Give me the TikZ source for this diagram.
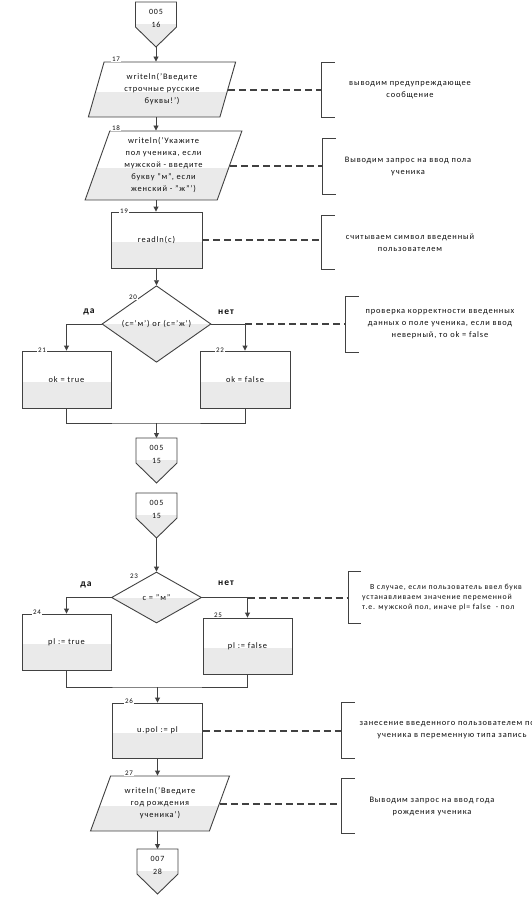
\documentclass[tikz,border=0pt]{standalone}
\usepackage{fontspec}
\setmainfont{Carlito}[LetterSpace=10]
\usetikzlibrary{shapes.geometric,arrows.meta}
\definecolor{linec}{RGB}{65,65,65}
\definecolor{shadec}{RGB}{234,234,234}
\definecolor{txtc}{RGB}{15,15,15}
\tikzset{
 outl/.style={draw=linec, line width=0.9pt},
 lowshade/.style={path picture={\fill[shadec] ([yshift=-#1]path picture bounding box.west) rectangle (path picture bounding box.south east);}},
 lowshade/.default=2pt,
 txt/.style={font=\fontsize{8.4}{12}\selectfont, text=txtc, align=center},
 proc/.style={rectangle, outl, fill=white, lowshade, txt, inner sep=0pt},
 io/.style={trapezium, trapezium stretches=true, outl, fill=white, lowshade, txt, inner sep=0pt},
 dec/.style={diamond, outl, fill=white, lowshade=0pt, txt, inner sep=0pt},
 flow/.style={outl, -{Triangle[length=5pt,width=5pt]}},
 wire/.style={outl},
 note/.style={txt, inner sep=0pt},
 bracketline/.style={draw=linec, line width=0.9pt},
 dashline/.style={draw=linec, line width=2pt, dash pattern=on 7pt off 4pt},
 num/.style={font=\fontsize{7}{8}\selectfont, text=txtc, fill=white, inner sep=1pt},
 branch/.style={font=\bfseries\fontsize{9.5}{11}\selectfont, text=txtc},
 offtext/.style={txt, inner sep=0pt, font=\fontsize{8}{12.5}\selectfont},
}
\newcommand\offpage[4]{%
  \path[outl, fill=white, path picture={\fill[shadec] (#2-21,#3+22) rectangle (#2+21,#3+47);}]
    (#2-20.5,#3) -- (#2+20.5,#3) -- (#2+20.5,#3+25) -- (#2,#3+45) -- (#2-20.5,#3+25) -- cycle;
  \coordinate (#1top) at (#2,#3);
  \coordinate (#1tip) at (#2,#3+45);
  \node[offtext] (#1) at (#2,#3+16.5) {#4};
}
\newcommand\bracketof[1]{%
  \draw[bracketline] ([xshift=13pt]#1.north west) -- (#1.north west) -- (#1.south west) -- ([xshift=13pt]#1.south west);
}
\begin{document}
\begin{tikzpicture}[x=1pt,y=-1pt]
\useasboundingbox (0,0) rectangle (532,897);
\fill[white] (0,0) rectangle (532,897);
\clip (0,0) rectangle (532,897);

% ---- first part ----
\offpage{k16}{156}{2}{005\\16}
\node[io, trapezium left angle=72, trapezium right angle=108, minimum width=148, minimum height=55] (p17) at (162,89.5) {writeln('Введите\\строчные русские\\буквы!')};
\node[io, trapezium left angle=72, trapezium right angle=108, minimum width=157, minimum height=69] (p18) at (163.5,165.5) {writeln('Укажите\\пол ученика, если\\мужской - введите\\букву "м", если\\женский - "ж"')};
\node[proc, minimum width=91, minimum height=56] (b19) at (156.5,240) {readln(c)};
\node[dec, minimum width=109, minimum height=64] (d20) at (156.5,324) {(c='м') or (c='ж')};
\node[proc, minimum width=89, minimum height=57] (b21) at (66.5,379.5) {ok = true};
\node[proc, minimum width=90, minimum height=57] (b22) at (245,379.5) {ok = false};
\coordinate (m1) at (156.5,423);
\offpage{k15a}{156.5}{438}{005\\15}

% ---- second part ----
\offpage{k15b}{156.5}{493}{005\\15}
\node[dec, minimum width=90, minimum height=51] (d23) at (156.5,597.5) {c = "м"};
\node[proc, minimum width=89, minimum height=56] (b24) at (66.5,642) {pl := true};
\node[proc, minimum width=89, minimum height=56] (b25) at (247.5,646) {pl := false};
\coordinate (m2) at (157.5,687);
\node[proc, minimum width=90, minimum height=55] (b26) at (157.5,730.5) {u.pol := pl};
\node[io, trapezium left angle=65.5, trapezium right angle=114.5, minimum width=140, minimum height=55] (p27) at (160,803.5) {writeln('Введите\\год рождения\\ученика')};
\offpage{k28}{157.5}{849}{007\\28}

% ---- flow connectors ----
\draw[flow] (k16tip) -- (k16tip |- p17.north);
\draw[flow] (k16tip |- p17.south) -- (k16tip |- p18.north);
\draw[flow] (k16tip |- p18.south) -- (k16tip |- b19.north);
\draw[flow] (b19.south) -- (d20.north);
\draw[flow] (d20.west) -| (b21.north);
\draw[flow] (d20.east) -| (b22.north);
\draw[wire] (b21.south) |- (m1) -| (b22.south);
\draw[flow] (m1) -- (k15atop);
\draw[flow] (k15btip) -- (d23.north);
\draw[flow] (d23.west) -| (b24.north);
\draw[flow] (d23.east) -| (b25.north);
\draw[wire] (b24.south) |- (m2) -| (b25.south);
\draw[flow] (m2) -- (b26.north);
\draw[flow] (b26.south) -- (b26.south |- p27.north);
\draw[flow] (b26.south |- p27.south) -- (k28top);

% ---- comments ----
\node[note, minimum width=176, minimum height=54] (c1) at (410,90) {выводим предупреждающее\\сообщение};
\node[note, minimum width=170, minimum height=55] (c2) at (408,166.5) {Выводим запрос на ввод пола\\ученика};
\node[note, minimum width=176, minimum height=53] (c3) at (410,242.5) {считываем символ введенный\\пользователем};
\node[note, minimum width=188, minimum height=55] (c4) at (440,324.5) {проверка корректности введенных\\данных о поле ученика, если ввод\\неверный, то ok = false};
\node[note, anchor=west, align=left, inner xsep=14pt, minimum height=51, font=\fontsize{7.8}{10}\selectfont] (c5) at (348,597.5) {\hspace*{8pt}В случае, если пользователь ввел букв\\устанавливаем значение переменной\\т.е. мужской пол, иначе pl= false \ - пол};
\node[note, minimum width=220, minimum height=55] (c6) at (452,730.5) {занесение введенного пользователем пола\\ученика в переменную типа запись};
\node[note, minimum width=180, minimum height=54] (c7) at (432,806) {Выводим запрос на ввод года\\рождения ученика};
\bracketof{c1}\bracketof{c2}\bracketof{c3}\bracketof{c4}\bracketof{c5}\bracketof{c6}\bracketof{c7}

\coordinate (j20) at (b22.north |- d20.east);
\coordinate (j23) at (b25.north |- d23.east);
\draw[dashline] (p17.east) -- (p17.east -| c1.west);
\draw[dashline] (p18.east) -- (p18.east -| c2.west);
\draw[dashline] (b19.east) -- (b19.east -| c3.west);
\draw[dashline] (j20) -- (j20 -| c4.west);
\draw[dashline] (j23) -- (j23 -| c5.west);
\draw[dashline] (b26.east) -- (b26.east -| c6.west);
\draw[dashline] (p27.east) -- (p27.east -| c7.west);

% ---- branch labels ----
\node[branch] (y20) at (89,312) {да};
\node[branch] (n20) at (226,312) {нет};
\node[branch] (y23) at (86,585) {да};
\node[branch] (n23) at (226,583) {нет};

% ---- block numbers ----
\node[num] (l17) at (116,59) {17};
\node[num] (l18) at (116,128) {18};
\node[num] (l19) at (124,211) {19};
\node[num] (l20) at (133,297) {20};
\node[num] (l21) at (42,350) {21};
\node[num] (l22) at (220,350) {22};
\node[num] (l23) at (134,576) {23};
\node[num] (l24) at (37,612) {24};
\node[num] (l25) at (218,615) {25};
\node[num] (l26) at (129,701) {26};
\node[num] (l27) at (129,773) {27};
\end{tikzpicture}
\end{document}
